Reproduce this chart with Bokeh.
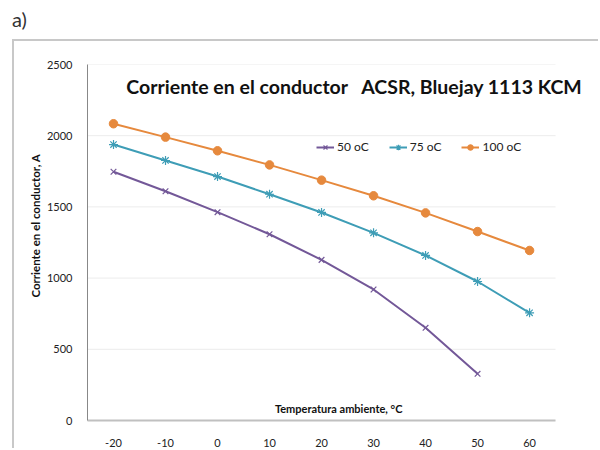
from bokeh.plotting import figure
from bokeh.models import Range1d, FixedTicker, Label, Legend, LegendItem, Div
from bokeh.layouts import column
from bokeh.embed import file_html
from bokeh.resources import INLINE

temps = [-20, -10, 0, 10, 20, 30, 40, 50, 60]
i50 = [1747, 1610, 1463, 1308, 1128, 920, 651, 328]
i75 = [1938, 1826, 1713, 1589, 1461, 1318, 1159, 976, 756]
i100 = [2084, 1990, 1894, 1795, 1688, 1578, 1458, 1327, 1194]
series_names = ["50 oC", "75 oC", "100 oC"]
yticks = [0, 500, 1000, 1500, 2000, 2500]
title_text = "Corriente en el conductor\u00a0\u00a0\u00a0ACSR, Bluejay 1113 KCM"
xlabel = "Temperatura ambiente, °C"
ylabel = "Corriente en el conductor, A"

XMIN, XMAX, XVIEW = -25, 65, 72.1   # category band edges; view extends right so title fits

FONT = "Lato"
C50, C75, C100 = "#735898", "#3e9db6", "#e6893d"

p = figure(width=586, height=409, output_backend="svg", toolbar_location=None,
           x_range=Range1d(XMIN, XVIEW), y_range=Range1d(0, 2500),
           min_border_left=73, min_border_right=8, min_border_top=23, min_border_bottom=30)
p.margin = (2, 0, 0, 14)
p.styles = {"box-shadow": "-2px -2px 0px 0px #c8c8c8"}
p.outline_line_color = None
p.xgrid.visible = False
p.ygrid.visible = False

# horizontal grid lines limited to the category band
p.segment(x0=[XMIN] * len(yticks), x1=[XMAX] * len(yticks), y0=yticks, y1=yticks,
          line_color="#ececec", line_width=1)

p.yaxis.ticker = FixedTicker(ticks=yticks)
p.xaxis.ticker = FixedTicker(ticks=temps)
p.xaxis.bounds = (XMIN, XMAX)
p.xaxis.major_label_overrides = {t: str(t) for t in temps}
for ax in (p.xaxis[0], p.yaxis[0]):
    ax.major_tick_line_color = None
    ax.minor_tick_line_color = None
    ax.major_label_text_font = FONT
    ax.major_label_text_font_size = "11px"
    ax.major_label_text_color = "#222222"
p.xaxis.major_label_standoff = 12
p.yaxis.major_label_standoff = 9
p.yaxis.axis_line_color = "#888888"
p.yaxis.axis_line_width = 1
p.xaxis.axis_line_color = "#c0c0c0"
p.xaxis.axis_line_width = 2

p.yaxis.axis_label = "\u00a0" * 12 + ylabel
p.yaxis.axis_label_text_font = FONT
p.yaxis.axis_label_text_font_size = "11.5px"
p.yaxis.axis_label_text_font_style = "bold"
p.yaxis.axis_label_text_color = "#111111"
p.yaxis.axis_label_standoff = 2

r1l = p.line(temps[:len(i50)], i50, line_color=C50, line_width=2)
r1m = p.scatter(temps[:len(i50)], i50, marker="x", size=8, line_color=C50, line_width=1.2)
r2l = p.line(temps, i75, line_color=C75, line_width=2)
r2m = p.scatter(temps, i75, marker="asterisk", size=9, line_color=C75, line_width=1.2)
r3l = p.line(temps, i100, line_color=C100, line_width=2)
r3m = p.scatter(temps, i100, marker="circle", size=8.5, fill_color=C100, line_color=C100)

legend = Legend(items=[LegendItem(label=series_names[0], renderers=[r1l, r1m]),
                       LegendItem(label=series_names[1], renderers=[r2l, r2m]),
                       LegendItem(label=series_names[2], renderers=[r3l, r3m])],
                orientation="horizontal", location=(229, 266),
                padding=0, margin=0, spacing=20, glyph_width=18, glyph_height=14,
                label_height=14, label_standoff=3, label_text_font=FONT,
                label_text_font_size="12px", label_text_color="#222222",
                background_fill_alpha=0, border_line_color=None)
p.add_layout(legend)

p.add_layout(Label(x=26.3, y=2345, text=title_text, text_font=FONT, text_font_size="19.5px",
                   text_font_style="bold", text_align="center", text_baseline="middle",
                   text_color="#111111"))
p.add_layout(Label(x=23.3, y=84, text=xlabel, text_font=FONT, text_font_size="11px",
                   text_font_style="bold", text_align="center", text_baseline="middle",
                   text_color="#111111"))

div = Div(text="a)", width=60, height=31, margin=(8, 0, 0, 12),
          styles={"font-size": "20px", "font-family": "Lato", "color": "#333333",
                  "line-height": "22px"})

layout = column(div, p, spacing=0)
open("out.html", "w").write(file_html(layout, INLINE))
